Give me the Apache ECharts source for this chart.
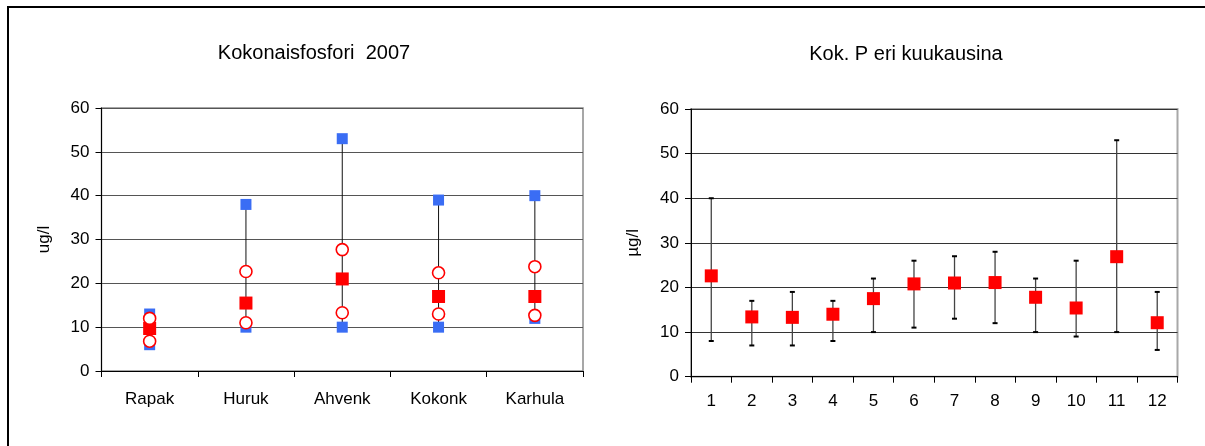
<!DOCTYPE html>
<html>
<head>
<meta charset="utf-8">
<script src="https://cdn.jsdelivr.net/npm/echarts@6/dist/echarts.min.js"></script>
<style>
html,body{margin:0;padding:0;background:#fff;}
#c{width:1205px;height:446px;position:absolute;left:0;top:0;}
#frame{position:absolute;left:7px;top:6px;width:1198px;height:440px;border-top:2px solid #000;border-left:2px solid #000;box-sizing:border-box;pointer-events:none;}
</style>
</head>
<body>
<div id="c"></div>
<div id="frame"></div>
<script>
// ---- Left chart data ----
const stations = ['Rapak', 'Huruk', 'Ahvenk', 'Kokonk', 'Karhula'];
const stationMax = [13, 38, 53, 39, 40];
const stationMin = [6, 10, 10, 10, 12];
const stationUpper = [12, 22.7, 27.7, 22.4, 23.8];
const stationLower = [6.8, 11, 13.3, 13, 12.7];
const stationMid = [9.7, 15.5, 21, 17, 17];

// ---- Right chart data ----
const months = ['1','2','3','4','5','6','7','8','9','10','11','12'];
const monthMax = [40, 17, 19, 17, 22, 26, 27, 28, 22, 26, 53, 19];
const monthMin = [8, 7, 7, 8, 10, 11, 13, 12, 10, 9, 10, 6];
const monthMid = [22.6, 13.4, 13.3, 14, 17.5, 20.8, 21, 21.1, 17.8, 15.4, 26.9, 12.1];

const yTicks = [0, 10, 20, 30, 40, 50, 60];

const FONT = 'Liberation Sans, Arial, sans-serif';
const chart = echarts.init(document.getElementById('c'), null, {renderer: 'canvas'});

function rangeData(cats, mx, mn) {
  return cats.map((c, i) => [i, mx[i], mn[i]]);
}
function pairs(arr) { return arr.map((v, i) => [i, v]); }

function yAxisCfg(gridIndex, name, gridColor) {
  return {
    gridIndex: gridIndex, type: 'value', min: yTicks[0], max: yTicks[yTicks.length - 1], interval: 10,
    name: name, nameLocation: 'middle', nameGap: 49, nameRotate: 90,
    nameTextStyle: {fontFamily: FONT, fontSize: 17, color: '#000'},
    axisLine: {show: true, lineStyle: {color: '#000', width: 1}},
    axisTick: {show: true, length: 6, lineStyle: {color: '#000'}},
    axisLabel: {fontFamily: FONT, fontSize: 17, color: '#000', margin: 12},
    splitLine: {show: true, lineStyle: {color: gridColor, width: 1}}
  };
}
function xAxisCfg(gridIndex, cats, margin) {
  return {
    gridIndex: gridIndex, type: 'category', data: cats, boundaryGap: true,
    axisLine: {show: true, onZero: false, lineStyle: {color: '#000', width: 1}},
    axisTick: {show: true, length: 6, alignWithLabel: false, interval: 0, lineStyle: {color: '#000'}},
    axisLabel: {fontFamily: FONT, fontSize: 17, color: '#000', margin: margin, interval: 0},
    splitLine: {show: false}
  };
}

const option = {
  animation: false,
  backgroundColor: '#fff',
  title: [
    {text: 'Kokonaisfosfori  2007', left: 309, top: 38, textAlign: 'center',
     textStyle: {fontFamily: FONT, fontSize: 20, fontWeight: 'normal', color: '#000'}},
    {text: 'Kok. P eri kuukausina', left: 901, top: 39, textAlign: 'center',
     textStyle: {fontFamily: FONT, fontSize: 20, fontWeight: 'normal', color: '#000'}}
  ],
  grid: [
    {left: 101.5, top: 108, width: 481.5, height: 263, show: true, borderColor: '#8a8a8a', borderWidth: 1.5, backgroundColor: 'transparent'},
    {left: 691, top: 109, width: 486.5, height: 267.7, show: true, borderColor: '#a8a8a8', borderWidth: 2, backgroundColor: 'transparent'}
  ],
  xAxis: [xAxisCfg(0, stations, 20), xAxisCfg(1, months, 16)],
  yAxis: [yAxisCfg(0, 'ug/l', '#555'), yAxisCfg(1, 'µg/l', '#333')],
  series: [
    {
      type: 'custom', xAxisIndex: 0, yAxisIndex: 0, z: 2,
      data: rangeData(stations, stationMax, stationMin),
      renderItem: function (params, api) {
        const top = api.coord([api.value(0), api.value(1)]);
        const bot = api.coord([api.value(0), api.value(2)]);
        return {type: 'line', shape: {x1: top[0], y1: top[1], x2: bot[0], y2: bot[1]},
                style: {stroke: '#111', lineWidth: 1}};
      }
    },
    {type: 'scatter', xAxisIndex: 0, yAxisIndex: 0, z: 3, symbol: 'rect', symbolSize: 11,
     itemStyle: {color: '#3a6df4', opacity: 1}, data: pairs(stationMax)},
    {type: 'scatter', xAxisIndex: 0, yAxisIndex: 0, z: 3, symbol: 'rect', symbolSize: 11,
     itemStyle: {color: '#3a6df4', opacity: 1}, data: pairs(stationMin)},
    {type: 'scatter', xAxisIndex: 0, yAxisIndex: 0, z: 4, symbol: 'rect', symbolSize: 13,
     itemStyle: {color: '#ff0000', opacity: 1}, data: pairs(stationMid)},
    {type: 'scatter', xAxisIndex: 0, yAxisIndex: 0, z: 5, symbol: 'circle', symbolSize: 12,
     itemStyle: {color: '#fff', borderColor: '#ff0000', borderWidth: 1.6, opacity: 1}, data: pairs(stationUpper)},
    {type: 'scatter', xAxisIndex: 0, yAxisIndex: 0, z: 5, symbol: 'circle', symbolSize: 12,
     itemStyle: {color: '#fff', borderColor: '#ff0000', borderWidth: 1.6, opacity: 1}, data: pairs(stationLower)},
    {
      type: 'custom', xAxisIndex: 1, yAxisIndex: 1, z: 2,
      data: rangeData(months, monthMax, monthMin),
      renderItem: function (params, api) {
        const top = api.coord([api.value(0), api.value(1)]);
        const bot = api.coord([api.value(0), api.value(2)]);
        const w = 2.5;
        return {type: 'group', children: [
          {type: 'line', shape: {x1: top[0], y1: top[1], x2: bot[0], y2: bot[1]}, style: {stroke: '#444', lineWidth: 1.3}},
          {type: 'line', shape: {x1: top[0] - w, y1: top[1], x2: top[0] + w, y2: top[1]}, style: {stroke: '#000', lineWidth: 2}},
          {type: 'line', shape: {x1: bot[0] - w, y1: bot[1], x2: bot[0] + w, y2: bot[1]}, style: {stroke: '#000', lineWidth: 2}}
        ]};
      }
    },
    {type: 'scatter', xAxisIndex: 1, yAxisIndex: 1, z: 4, symbol: 'rect', symbolSize: 13,
     itemStyle: {color: '#ff0000', opacity: 1}, data: pairs(monthMid)}
  ]
};
chart.setOption(option);
</script>
</body>
</html>
